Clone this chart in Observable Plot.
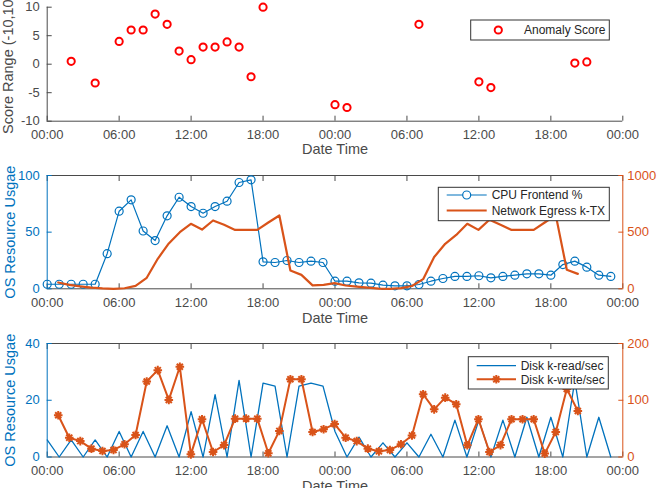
<!DOCTYPE html>
<html><head><meta charset="utf-8">
<script src="https://cdn.jsdelivr.net/npm/d3@7"></script>
<script src="https://cdn.jsdelivr.net/npm/@observablehq/plot@0.6"></script>
<style>
body{margin:0;background:#fff;}
#fig{position:relative;width:657px;height:488px;overflow:hidden;background:#fff;}
#fig svg{position:absolute;left:0;}
</style></head><body><div id="fig"></div>
<script>
// ---------- data ----------
const xTicks = [0, 6, 12, 18, 24, 30, 36, 42, 48];
const xTickLabels = ["00:00","06:00","12:00","18:00","00:00","06:00","12:00","18:00","00:00"];

const anomalyHour  = [2, 4, 6, 7, 8, 9, 10, 11, 12, 13, 14, 15, 16, 17, 18, 24, 25, 31, 36, 37, 44, 45];
const anomalyScore = [0.5, -3.3, 4, 6, 6, 8.8, 7, 2.3, 0.8, 3, 3, 3.9, 3, -2.2, 10, -7.1, -7.6, 7, -3.1, -4.1, 0.2, 0.4];
const scoreTicks = [-10, -5, 0, 5, 10];

const hourlyTime = [0,1,2,3,4,5,6,7,8,9,10,11,12,13,14,15,16,17,18,19,20,21,22,23,
                    24,25,26,27,28,29,30,31,32,33,34,35,36,37,38,39,40,41,42,43,44,45,46,47];
const cpuFrontend = [4,4,4,4,4,31,68.5,78.5,51,42.6,64.4,80.8,72.6,66.7,72.6,77.3,93.8,96.2,23.8,23.2,25,23.2,24.4,23.2,
                     6.7,6.7,5.3,5,3.2,2.6,2.6,3.8,6.7,9.1,10.9,10.9,11.5,9.7,10.9,12,13.2,13.2,12,21.4,24.4,19.1,12,10.9];
const diskRead = [6,0,6,0,6,0,9,0,9,0,11,0,16,0,22,0,27,0,26,25,0,25,26,25,
                  9,0,7,0,5,0,5,0,8,0,13,0,13,0,13,0,14,0,14,0,27,0,14,0];

const sampleTime = [0.92,1.84,2.76,3.69,4.61,5.53,6.45,7.37,8.30,9.22,10.14,11.06,11.98,12.91,13.83,14.75,
                    15.67,16.59,17.52,18.44,19.36,20.28,21.20,22.13,23.05,23.97,24.89,25.81,26.74,27.66,28.58,29.50,
                    30.42,31.35,32.27,33.19,34.11,35.03,35.96,36.88,37.80,38.72,39.64,40.57,41.49,42.41,43.33,44.25];
const networkEgress = [56,35,22,10,3,0,5,26,97,265,400,500,574,523,603,565,
                       520,520,520,585,647,161,123,30,35,50,29,20,10,2,0,6,
                       25,85,280,397,475,574,520,609,565,520,520,520,585,650,168,132];
const diskWrite = [73.6,34,28,14.7,10.6,12.4,22.4,38.8,133,153,100.6,159,4.7,66.5,8.8,21,
                   67.6,67.6,67.6,6.5,46,137,137,44,49,58,34,28,14.7,10,12.4,22.4,
                   38,110.6,84,104.6,93,20.6,66.5,8.8,21,66.5,66.5,66.5,6,44,120,81];

const usageTicks1 = [0, 50, 100], netTicks = [0, 500, 1000];
const usageTicks2 = [0, 20, 40], writeTicks = [0, 100, 200];

// ---------- tables ----------
const anomaly = anomalyHour.map((h, i) => ({h, v: anomalyScore[i]}));
const cpu = hourlyTime.map((h, i) => ({h, v: cpuFrontend[i]}));
const read = hourlyTime.map((h, i) => ({h, v: diskRead[i]}));
const net = sampleTime.map((h, i) => ({h, v: networkEgress[i]}));
const write = sampleTime.map((h, i) => ({h, v: diskWrite[i]}));

// ---------- style ----------
const W = 657, ML = 46.7, MR = 657 - 622.3;
const BLUE = "#0072BD", ORANGE = "#D95319", GRAY = "#4a4a4a", RED = "#FF0000";
const FONT = '"Liberation Sans", Arial, Helvetica, sans-serif';
const fig = document.getElementById("fig");
const plain = d => String(d);

const asterisk = {draw(ctx, size) {
  const r = Math.sqrt(size / Math.PI);
  for (let k = 0; k < 4; k++) {
    const a = k * Math.PI / 4, c = Math.cos(a) * r, s = Math.sin(a) * r;
    ctx.moveTo(c, s); ctx.lineTo(-c, -s);
  }
}};

function base(h, mt, mb, ydom) {
  return {width: W, height: h, marginLeft: ML, marginRight: MR, marginTop: mt, marginBottom: mb,
    style: {fontFamily: FONT, fontSize: "13px", background: "transparent", overflow: "visible"},
    x: {domain: [0, 48], axis: null}, y: {domain: ydom, axis: null}};
}
const fmtX = d => xTickLabels[xTicks.indexOf(d)];
const xBottom = (labelOffset) => Plot.axisX({anchor: "bottom", ticks: xTicks, tickFormat: fmtX, tickSize: -5, tickPadding: 14,
  color: GRAY, label: "Date Time", labelAnchor: "center", labelArrow: "none", labelOffset});
const xTop = () => Plot.axisX({anchor: "top", ticks: xTicks, tickFormat: () => "", tickSize: -5, color: GRAY, label: null});

function add(svg, top) { svg.style.top = top + "px"; fig.appendChild(svg); 
  d3.select(svg).selectAll('[aria-label="x-axis label"] text, [aria-label="y-axis label"] text').style("font-size", "14.5px");
  return svg; }

function legend(svg, top, box, rows) {
  const g = d3.select(svg).append("g").attr("font-family", FONT).attr("font-size", "12px").attr("text-anchor", "start");
  g.append("rect").attr("x", box.x).attr("y", box.y - top).attr("width", box.w).attr("height", box.h)
    .attr("fill", "#fff").attr("stroke", "#333").attr("stroke-width", 1);
  for (const r of rows) {
    const y = r.y - top;
    if (r.line) g.append("line").attr("x1", r.lx1).attr("x2", r.lx2).attr("y1", y).attr("y2", y)
      .attr("stroke", r.color).attr("stroke-width", r.lw);
    if (r.marker === "circle") g.append("circle").attr("cx", r.mx).attr("cy", y).attr("r", r.mr)
      .attr("fill", r.line ? "#fff" : "none").attr("stroke", r.color).attr("stroke-width", r.mw);
    if (r.marker === "asterisk") g.append("path").attr("transform", `translate(${r.mx},${y})`)
      .attr("d", d3.symbol(asterisk, Math.PI * r.mr * r.mr)()).attr("fill", "none").attr("stroke", r.color).attr("stroke-width", r.mw);
    g.append("text").attr("x", r.tx).attr("y", y).attr("dy", "0.35em").attr("text-anchor", "start").attr("fill", "#262626").text(r.text);
  }
}

// ---------- panel 1 ----------
const p1 = Plot.plot({...base(163, 6.7, 42.3, [-10, 10]), marks: [
  Plot.ruleX([0], {stroke: GRAY}),
  Plot.ruleY([-10], {stroke: GRAY}),
  xBottom(33),
  Plot.axisY({ticks: scoreTicks, tickSize: -5, tickPadding: 12.5, color: GRAY, tickFormat: plain,
    label: "Score Range (-10,10)", labelAnchor: "center", labelArrow: "none", labelOffset: 44}),
  Plot.dot(anomaly, {x: "h", y: "v", r: 3.6, stroke: RED, strokeWidth: 2})
]});
add(p1, 0);
legend(p1, 0, {x: 470.7, y: 20, w: 138.6, h: 20},
  [{y: 30, marker: "circle", mx: 498.3, mr: 3.6, mw: 2, color: RED, tx: 524, text: "Anomaly Score"}]);

// ---------- panel 2 ----------
const T2 = 163;
const p2a = Plot.plot({...base(165, 12, 39.7, [0, 100]), marks: [
  Plot.ruleY([100], {stroke: GRAY}),
  Plot.ruleY([0], {stroke: GRAY}),
  xTop(),
  xBottom(34),
  Plot.ruleX([0], {stroke: BLUE}),
  Plot.axisY({ticks: usageTicks1, tickSize: -5, tickPadding: 12.5, color: BLUE, tickFormat: plain,
    label: "OS Resource Usgae", labelAnchor: "center", labelArrow: "none", labelOffset: 42}),
  Plot.line(cpu, {x: "h", y: "v", stroke: BLUE, strokeWidth: 1.2}),
  Plot.dot(cpu, {x: "h", y: "v", r: 4, stroke: BLUE, strokeWidth: 1.2, fill: "none"})
]});
add(p2a, T2);
const p2b = Plot.plot({...base(165, 12, 39.7, [0, 1000]), marks: [
  Plot.ruleX([48], {stroke: ORANGE}),
  Plot.axisY({anchor: "right", ticks: netTicks, tickSize: -5, tickPadding: 9.5, color: ORANGE, tickFormat: plain, label: null}),
  Plot.line(net, {x: "h", y: "v", stroke: ORANGE, strokeWidth: 2.2})
]});
add(p2b, T2);
legend(p2b, T2, {x: 438.3, y: 187.3, w: 171, h: 33.4}, [
  {y: 195, line: true, lx1: 446.7, lx2: 486.7, lw: 1.2, marker: "circle", mx: 466.7, mr: 4, mw: 1.2, color: BLUE, tx: 491.7, text: "CPU Frontend %"},
  {y: 210.5, line: true, lx1: 446.7, lx2: 486.7, lw: 2.2, color: ORANGE, tx: 491.7, text: "Network Egress k-TX"}
]);

// ---------- panel 3 ----------
const T3 = 328;
const p3a = Plot.plot({...base(160, 15, 31.5, [0, 40]), marks: [
  Plot.ruleY([40], {stroke: GRAY}),
  Plot.ruleY([0], {stroke: GRAY}),
  xTop(),
  xBottom(34),
  Plot.ruleX([0], {stroke: BLUE}),
  Plot.axisY({ticks: usageTicks2, tickSize: -5, tickPadding: 12.5, color: BLUE, tickFormat: plain,
    label: "OS Resource Usgae", labelAnchor: "center", labelArrow: "none", labelOffset: 42}),
  Plot.line(read, {x: "h", y: "v", stroke: BLUE, strokeWidth: 1.3})
]});
add(p3a, T3);
const p3b = Plot.plot({...base(160, 15, 31.5, [0, 200]), marks: [
  Plot.ruleX([48], {stroke: ORANGE}),
  Plot.axisY({anchor: "right", ticks: writeTicks, tickSize: -5, tickPadding: 9.5, color: ORANGE, tickFormat: plain, label: null}),
  Plot.line(write, {x: "h", y: "v", stroke: ORANGE, strokeWidth: 2}),
  Plot.dot(write, {x: "h", y: "v", r: 4.3, symbol: asterisk, stroke: ORANGE, strokeWidth: 2, fill: "none"})
]});
add(p3b, T3);
legend(p3b, T3, {x: 468.3, y: 356.7, w: 140, h: 32.3}, [
  {y: 365.7, line: true, lx1: 476.7, lx2: 516, lw: 1.3, color: BLUE, tx: 520.7, text: "Disk k-read/sec"},
  {y: 379.3, line: true, lx1: 476.7, lx2: 516, lw: 2, marker: "asterisk", mx: 496.3, mr: 4.3, mw: 2, color: ORANGE, tx: 520.7, text: "Disk k-write/sec"}
]);
</script></body></html>
